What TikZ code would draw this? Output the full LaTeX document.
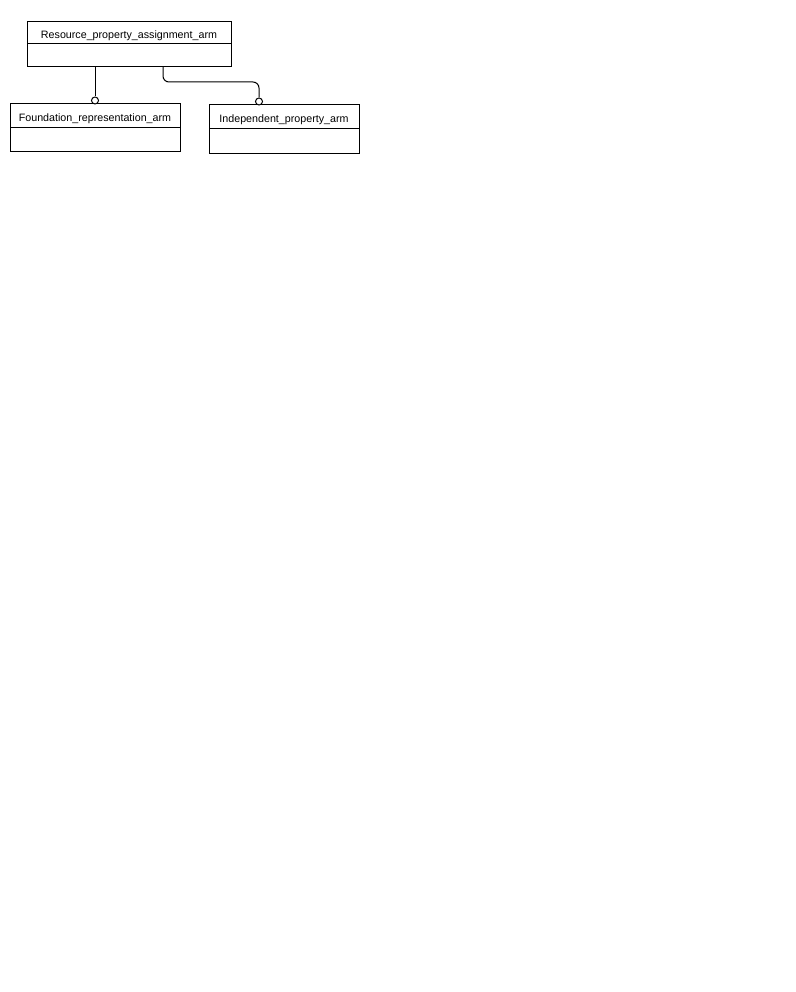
\documentclass[tikz,border=0pt]{standalone}
\usepackage{fontspec}
\setmainfont{Liberation Sans}
\begin{document}
\begin{tikzpicture}[x=1pt,y=-1pt,line width=1pt,
  lbl/.style={font=\fontsize{10.7}{12}\selectfont,inner sep=0pt,anchor=center},
  conn/.style={draw=black,line width=1pt,rounded corners=6pt},
  endcirc/.style={circle,draw=black,fill=white,line width=1pt,minimum size=7pt,inner sep=0pt}]
\useasboundingbox (0,0) rectangle (795,992);
% top box
\draw (27,22) rectangle (231,67);
\draw (27,44) -- (231,44);
\node[lbl] (ta) at (129,35.5) {Resource\_property\_assignment\_arm};
\coordinate (tb1) at (95,67);
\coordinate (tb2) at (163,67);
% foundation box
\draw (10,104) rectangle (180,152);
\draw (10,128) -- (180,128);
\node[lbl] (fa) at (95,118.5) {Foundation\_representation\_arm};
% independent box
\draw (209,105) rectangle (359,154);
\draw (209,129) -- (359,129);
\node[lbl] (ia) at (284,119.5) {Independent\_property\_arm};
% end circles
\node[endcirc] (c1) at (95,100.5) {};
\node[endcirc] (c2) at (259,101.5) {};
% connectors
\draw[conn] (tb1) -- (c1.north);
\draw[conn] (tb2) -- (163,82) -- (259,82) -- (c2.north);
\end{tikzpicture}
\end{document}
